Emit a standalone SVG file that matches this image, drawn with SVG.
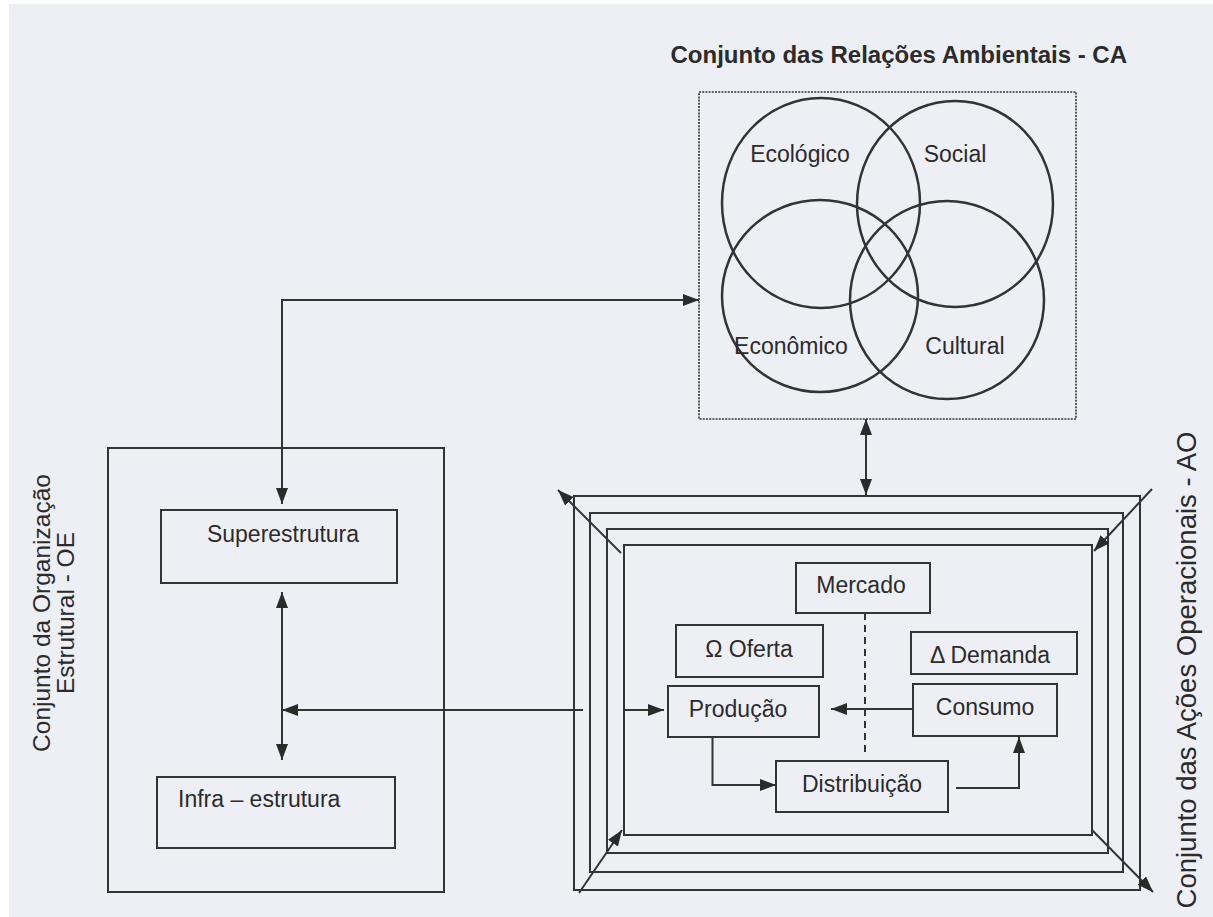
<svg xmlns="http://www.w3.org/2000/svg" width="1213" height="917" viewBox="0 0 1213 917">
<style>
  text { font-family: "Liberation Sans", Arial, sans-serif; fill: #2b2b2b; }
  .lbl { font-size: 23px; text-anchor: middle; }
  .box { fill: none; stroke: #333; stroke-width: 2; }
  .ring { fill: none; stroke: #333; stroke-width: 2.5; }
  .ln { fill: none; stroke: #333; stroke-width: 2; }
  .arr { marker-end: url(#ah); }
  .arr2 { marker-start: url(#ah); marker-end: url(#ah); }
</style>
<defs>
  <marker id="ah" markerUnits="userSpaceOnUse" markerWidth="16" markerHeight="12" refX="16" refY="6" orient="auto-start-reverse">
    <path d="M0,0 L16,6 L0,12 z" fill="#2b2b2b"/>
  </marker>
</defs>
<rect x="0" y="0" width="1213" height="917" fill="#ffffff"/>
<rect x="9" y="4" width="1204" height="913" fill="#eeeff5"/>

<g id="ca">
  <rect x="699" y="92" width="377" height="327" fill="none" stroke="#333" stroke-width="1.6" stroke-dasharray="2,1.2"/>
  <text x="1127" y="63" font-size="24" font-weight="bold" text-anchor="end">Conjunto das Relações Ambientais - CA</text>
  <g id="ecologico">
    <ellipse cx="821" cy="203" rx="99" ry="105" class="ring"/>
    <text class="lbl" x="800" y="162">Ecológico</text>
  </g>
  <g id="social">
    <ellipse cx="955" cy="204" rx="98" ry="103" class="ring"/>
    <text class="lbl" x="955" y="162">Social</text>
  </g>
  <g id="economico">
    <ellipse cx="820" cy="296" rx="98" ry="96" class="ring"/>
    <text class="lbl" x="791" y="354">Econômico</text>
  </g>
  <g id="cultural">
    <ellipse cx="947" cy="300" rx="97" ry="99" class="ring"/>
    <text class="lbl" x="965" y="354">Cultural</text>
  </g>
</g>

<g id="oe">
  <rect x="108" y="448" width="336" height="444" class="box"/>
  <text transform="translate(50,613) rotate(-90)" font-size="24.5" text-anchor="middle">Conjunto da Organização</text>
  <text transform="translate(74,613) rotate(-90)" font-size="24.5" text-anchor="middle">Estrutural - OE</text>
</g>
<g id="superestrutura">
  <rect x="161" y="510" width="236" height="73" class="box"/>
  <text class="lbl" x="283" y="542">Superestrutura</text>
</g>
<g id="infraestrutura">
  <rect x="157" y="777" width="238" height="71" class="box"/>
  <text font-size="23" x="178" y="807">Infra – estrutura</text>
</g>

<g id="ao">
  <rect x="574" y="496" width="566" height="394" class="box"/>
  <rect x="590" y="513" width="533" height="359" class="box"/>
  <rect x="607" y="529" width="501" height="324" class="box"/>
  <rect x="624" y="545" width="468" height="290" class="box"/>
  <text transform="translate(1196,670) rotate(-90)" font-size="27.5" text-anchor="middle">Conjunto das Ações Operacionais - AO</text>
</g>
<g id="mercado">
  <rect x="796" y="563" width="134" height="50" class="box"/>
  <text class="lbl" x="861" y="593">Mercado</text>
</g>
<g id="oferta">
  <rect x="676" y="625" width="147" height="52" class="box"/>
  <text class="lbl" x="749" y="657">Ω Oferta</text>
</g>
<g id="demanda">
  <rect x="911" y="632" width="166" height="42" class="box"/>
  <text class="lbl" x="990" y="663">Δ Demanda</text>
</g>
<g id="producao">
  <rect x="668" y="686" width="151" height="51" class="box"/>
  <text class="lbl" x="738" y="717">Produção</text>
</g>
<g id="consumo">
  <rect x="913" y="684" width="144" height="52" class="box"/>
  <text class="lbl" x="985" y="715">Consumo</text>
</g>
<g id="distribuicao">
  <rect x="776" y="761" width="172" height="51" class="box"/>
  <text class="lbl" x="862" y="792">Distribuição</text>
</g>

<g id="connectors">
  <path class="ln arr2" d="M282,504 V300 H699"/>
  <path class="ln arr2" d="M282,592 V760"/>
  <path class="ln" d="M282,710 H583" marker-start="url(#ah)"/>
  <path class="ln arr" d="M624,710 H664"/>
  <path class="ln arr2" d="M866,419 V495"/>
  <path class="ln arr" d="M621,553 L558,490"/>
  <path class="ln arr" d="M1152,489 L1094,551"/>
  <path class="ln arr" d="M579,893 L622,830"/>
  <path class="ln arr" d="M1092,830 L1153,892"/>
  <path class="ln arr" d="M913,709 H831"/>
  <path class="ln arr" d="M712.5,737 V785 H776"/>
  <path class="ln arr" d="M956,788 H1019 V737"/>
  <path class="ln" d="M865,613 V755" stroke-dasharray="7,5"/>
</g>
</svg>
